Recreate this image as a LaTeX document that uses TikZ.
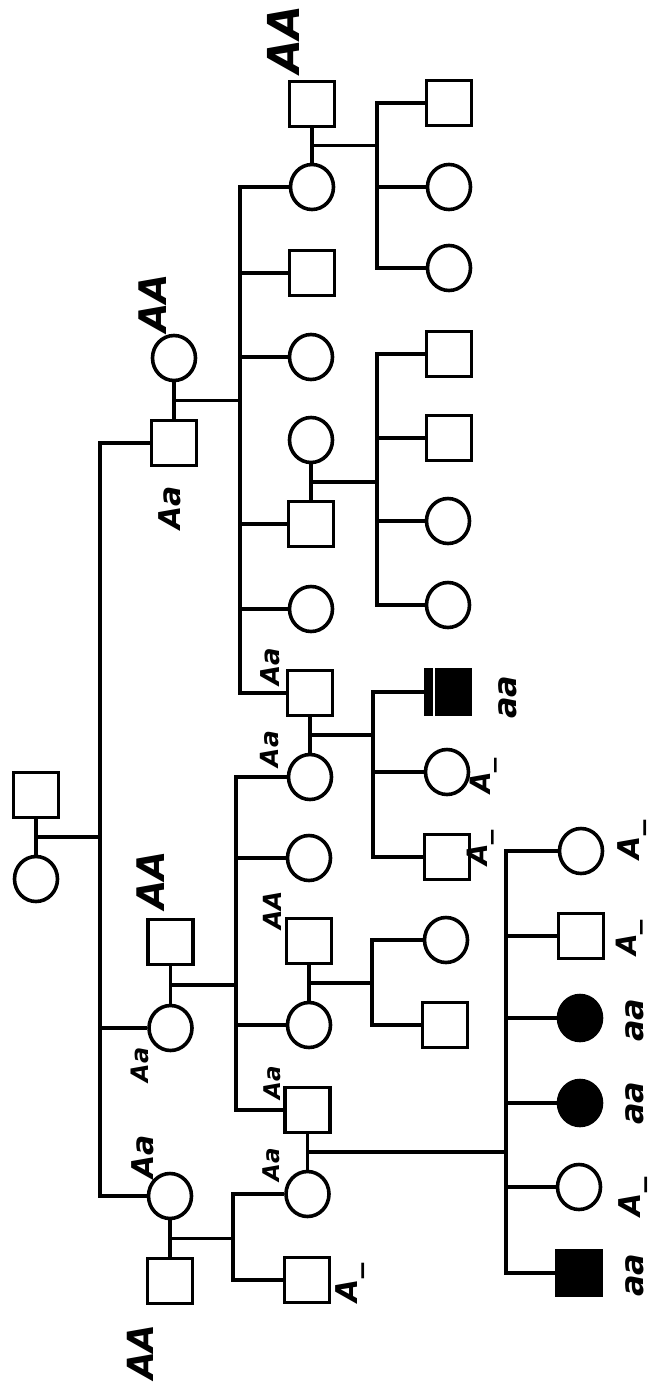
\documentclass[tikz,border=0pt]{standalone}
\usepackage{fontspec}
\newfontfamily\hand{DejaVu Sans}
\usetikzlibrary{shapes.geometric}
\tikzset{
  sq/.style={draw, rectangle, minimum size=45pt, inner sep=0pt, line width=3.6pt},
  ci/.style={draw, ellipse, minimum width=43pt, minimum height=45pt, inner sep=0pt, line width=3.6pt},
  aff/.style={fill=black},
  ln/.style={line width=3.1pt},
  lab/.style={rotate=90, inner sep=0pt, font=\hand\bfseries\itshape\fontsize{#1}{#1}\selectfont}
}
\begin{document}
\begin{tikzpicture}[x=1pt,y=-1pt]
\useasboundingbox[fill=white] (0,0) rectangle (654,1390);
% generation I
\node[sq] (s1) at (36,795) {};
\node[ci] (c1) at (36,879) {};
% generation II
\node[ci] (cA) at (174,358) {};
\node[sq] (sA) at (174,443) {};
\node[sq] (sB) at (170.5,942) {};
\node[ci] (cB) at (170.5,1028) {};
\node[ci] (cC) at (170,1196) {};
\node[sq] (sC) at (170,1281) {};
% generation III
\node[sq] (s31) at (312,104) {};
\node[ci] (c31) at (312,187) {};
\node[sq] (s32) at (312,273) {};
\node[ci] (c33) at (311,357) {};
\node[ci] (c34) at (311,440) {};
\node[sq] (s34) at (311,524) {};
\node[ci] (c35) at (311,609) {};
\node[sq] (s36) at (310,693) {};
\node[ci] (c41) at (310,777) {};
\node[ci] (c42) at (309,858) {};
\node[sq] (s43) at (309,941) {};
\node[ci] (c43) at (309,1025) {};
\node[sq] (s44) at (307.5,1110) {};
\node[ci] (c45) at (307.5,1194) {};
\node[sq] (s46) at (307,1280) {};
% generation IV
\node[sq] (q1) at (449,103) {};
\node[ci] (q2) at (449,187) {};
\node[ci] (q3) at (449,268) {};
\node[sq] (r1) at (449,354) {};
\node[sq] (r2) at (449,438) {};
\node[ci] (r3) at (448,521) {};
\node[ci] (r4) at (448,605) {};
\node[sq,aff] (t1) at (448,692) {};
\node[ci] (t2) at (447,772) {};
\node[sq] (t3) at (447,857) {};
\node[ci] (u1) at (446,940) {};
\node[sq] (u2) at (445,1025) {};
\node[ci] (v1) at (581,851) {};
\node[sq] (v2) at (581,936) {};
\node[ci,aff] (v3) at (580,1018) {};
\node[ci,aff] (v4) at (580,1103) {};
\node[ci] (v5) at (579,1187) {};
\node[sq,aff] (v6) at (579,1273) {};
\draw[white, line width=1.2pt] ([xshift=-14pt]t1.north) -- ([xshift=-14pt]t1.south);
% sibship line positions
\coordinate (k1) at (100,0);
\coordinate (k2) at (240,0);
\coordinate (k3) at (236,0);
\coordinate (k4) at (233,0);
\coordinate (k5) at (377,0);
\coordinate (k6) at (377,0);
\coordinate (k7) at (373,0);
\coordinate (k8) at (372,0);
\coordinate (k9) at (506,0);
% couples
\draw[ln] (s1.south) -- (c1.north) coordinate[pos=.5] (m1);
\draw[ln] (cA.south) -- (sA.north) coordinate[pos=.5] (m2);
\draw[ln] (sB.south) -- (cB.north) coordinate[pos=.5] (m3);
\draw[ln] (cC.south) -- (sC.north) coordinate[pos=.5] (m4);
\draw[ln] (s31.south) -- (c31.north) coordinate[pos=.5] (m5);
\draw[ln] (c34.south) -- (s34.north) coordinate[pos=.5] (m6);
\draw[ln] (s36.south) -- (c41.north) coordinate[pos=.5] (m7);
\draw[ln] (s43.south) -- (c43.north) coordinate[pos=.5] (m8);
\draw[ln] (s44.south) -- (c45.north) coordinate[pos=.5] (m9);
% descent lines
\draw[ln] (m1) -- (m1 -| k1);
\draw[ln] (m2) -- (m2 -| k2);
\draw[ln] (m3) -- (m3 -| k3);
\draw[ln] (m4) -- (m4 -| k4);
\draw[ln] (m5) -- (m5 -| k5);
\draw[ln] (m6) -- (m6 -| k6);
\draw[ln] (m7) -- (m7 -| k7);
\draw[ln] (m8) -- (m8 -| k8);
\draw[ln] (m9) -- (m9 -| k9);
% sibships
\draw[ln] (sA.west) -- (sA.west -| k1) -- (cC.west -| k1) -- (cC.west);
\draw[ln] (cB.west -| k1) -- (cB.west);
\draw[ln] (c31.west) -- (c31.west -| k2) -- (s36.west -| k2) -- (s36.west);
\foreach \n in {s32,c33,s34,c35} \draw[ln] (\n.west -| k2) -- (\n.west);
\draw[ln] (c41.west) -- (c41.west -| k3) -- (s44.west -| k3) -- (s44.west);
\foreach \n in {c42,c43} \draw[ln] (\n.west -| k3) -- (\n.west);
\draw[ln] (c45.west) -- (c45.west -| k4) -- (s46.west -| k4) -- (s46.west);
\draw[ln] (q1.west) -- (q1.west -| k5) -- (q3.west -| k5) -- (q3.west);
\draw[ln] (q2.west -| k5) -- (q2.west);
\draw[ln] (r1.west) -- (r1.west -| k6) -- (r4.west -| k6) -- (r4.west);
\foreach \n in {r2,r3} \draw[ln] (\n.west -| k6) -- (\n.west);
\draw[ln] (t1.west) -- (t1.west -| k7) -- (t3.west -| k7) -- (t3.west);
\draw[ln] (t2.west -| k7) -- (t2.west);
\draw[ln] (u1.west) -- (u1.west -| k8) -- (u2.west -| k8) -- (u2.west);
\draw[ln] (v1.west) -- (v1.west -| k9) -- (v6.west -| k9) -- (v6.west);
\foreach \n in {v2,v3,v4,v5} \draw[ln] (\n.west -| k9) -- (\n.west);
% genotype labels
\node[lab=44] (l1) at (283,39) {AA};
\node[lab=38] (l2) at (153,303) {AA};
\node[lab=30] (l3) at (170,508) {Aa};
\node[lab=26] (l4) at (270,667) {Aa};
\node[lab=32] (l5) at (508,697) {aa};
\node[lab=25] (l6) at (270,749) {Aa};
\node[lab=28] (l7) at (484,776) {A\_};
\node[lab=28] (l8) at (481,848) {A\_};
\node[lab=38] (l9) at (151,880) {AA};
\node[lab=25] (l10) at (272,910) {AA};
\node[lab=30] (l11) at (632,840) {A\_};
\node[lab=28] (l12) at (630,938) {A\_};
\node[lab=24] (l13) at (140,1065) {Aa};
\node[lab=32] (l14) at (635,1020) {aa};
\node[lab=23] (l15) at (272,1083) {Aa};
\node[lab=32] (l16) at (635,1103) {aa};
\node[lab=30] (l17) at (143,1157) {Aa};
\node[lab=23] (l18) at (271,1165) {Aa};
\node[lab=30] (l19) at (633,1197) {A\_};
\node[lab=32] (l20) at (635,1275) {aa};
\node[lab=36] (l21) at (140,1352) {AA};
\node[lab=30] (l22) at (350,1283) {A\_};
\end{tikzpicture}
\end{document}
